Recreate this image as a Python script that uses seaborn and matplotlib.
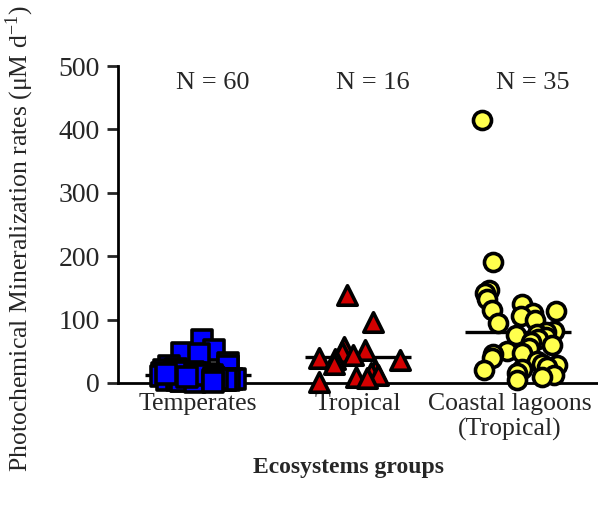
import numpy as np
import pandas as pd
import matplotlib
matplotlib.use("Agg")
import matplotlib.pyplot as plt
import matplotlib.transforms as mtransforms
import seaborn as sns

groups = ["Temperates", "Tropical", "Coastal lagoons\n(Tropical)"]
n_labels = ["N = 60", "N = 16", "N = 35"]

temperates = [68, 52, 47, 46, 31, 27, 27, 22, 20, 18,
              16, 15, 14, 13, 12, 12, 11, 10, 10, 10,
              9, 9, 8, 8, 8, 7, 7, 7, 6, 6,
              6, 6, 5, 5, 5, 5, 5, 4, 4, 4,
              9, 8, 8, 7, 6, 5, 4, 3, 3, 2,
              20, 18, 15, 14, 12, 10, 8, 6, 4, 2]
tropical = [139, 96, 57, 52, 49, 44, 40, 38, 36, 30, 20, 16, 12, 10, 8, 2]
coastal = [415, 191, 147, 142, 133, 125, 115, 113, 110, 105, 100, 95, 82, 80,
           78, 75, 72, 70, 65, 60, 55, 50, 48, 45, 40, 35, 30, 28, 25, 22,
           20, 15, 12, 10, 5]

colors = ["#0000ff", "#d40000", "#ffff4d"]
markers = ["s", "^", "o"]
sizes = [14, 14, 13]
jitters = [0.24, 0.28, 0.26]

df = pd.DataFrame({
    "group": [groups[0]] * len(temperates) + [groups[1]] * len(tropical) + [groups[2]] * len(coastal),
    "value": temperates + tropical + coastal,
})

sns.set_style("white")
plt.rcParams["font.family"] = ["Liberation Serif", "DejaVu Serif"]
plt.rcParams["mathtext.fontset"] = "stix"

fig = plt.figure(figsize=(5.98, 5.08), dpi=100)
ax = fig.add_axes([118 / 598, 125 / 508, 1 - 118 / 598, (383 - 66) / 508])

np.random.seed(3)
for g, c, m, s, j in zip(groups, colors, markers, sizes, jitters):
    sns.stripplot(data=df[df["group"] == g], x="group", y="value", order=groups,
                  color=c, marker=m, size=s, edgecolor="black", linewidth=2.6,
                  jitter=j, ax=ax, zorder=3, clip_on=False)

means = df.groupby("group", sort=False)["value"].mean().reindex(groups).values
xs = np.arange(len(groups))
ax.hlines(means, xs - 0.33, xs + 0.33, color="black", lw=2.4, zorder=2)

for x, t in zip(xs, n_labels):
    ax.text(x + 0.09, 473, t, ha="center", va="center", fontsize=19)

ax.set_xlim(-0.5, 2.5)
ax.set_ylim(0, 500)
ax.set_yticks([0, 100, 200, 300, 400, 500])
ax.tick_params(axis="y", direction="out", length=8, width=2, labelsize=20, pad=5, left=True)
ax.tick_params(axis="x", length=0, labelsize=18.5, pad=7)
for sp in ["top", "right"]:
    ax.spines[sp].set_visible(False)
for sp in ["left", "bottom"]:
    ax.spines[sp].set_linewidth(2)
    ax.spines[sp].set_color("black")

last = ax.get_xticklabels()[-1]
last.set_transform(last.get_transform() + mtransforms.ScaledTranslation(-8 / 100, 0, fig.dpi_scale_trans))

ax.set_xlabel("Ecosystems groups", fontsize=17, fontweight="bold")
ax.xaxis.set_label_coords(0.48, -0.235)
ax.set_ylabel(r"Photochemical Mineralization rates (μM d$^{\mathregular{-1}}$)", fontsize=18.5)
ax.yaxis.set_label_coords(-0.17, 0.455)

fig.savefig("out.png", dpi=100)
